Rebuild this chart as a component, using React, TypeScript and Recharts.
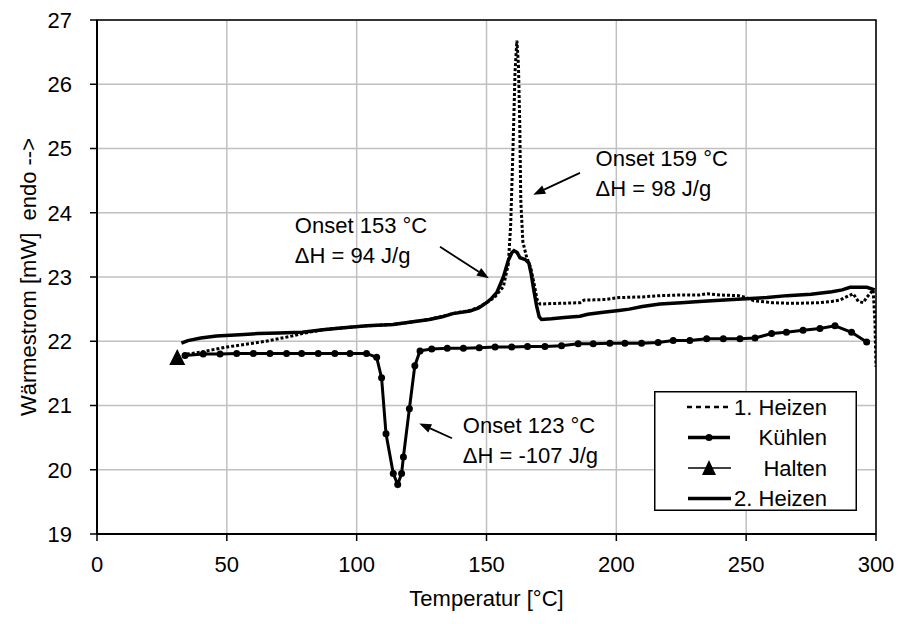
import React from 'react';
import {
  LineChart,
  Line,
  XAxis,
  YAxis,
  CartesianGrid,
  ReferenceArea,
  ReferenceLine,
  ReferenceDot,
  Legend,
} from 'recharts';

const FONT = '"Liberation Sans", Arial, Helvetica, sans-serif';

// Achsen
const xTicks = [0, 50, 100, 150, 200, 250, 300];
const yTicks = [19, 20, 21, 22, 23, 24, 25, 26, 27];

// 1. Heizen (gepunktet)
const heizen1Temp = [
  34.6, 40, 46, 50, 55, 60, 65, 70, 75, 79, 87, 95, 104, 114, 121, 128, 137, 143.6, 147, 150,
  153, 156.5, 158.4, 159.3, 160.2, 161.0, 161.7, 162.3, 162.8, 163.2, 164.0, 165.5, 167, 168.3,
  169.5, 170.6, 178, 186, 187.5, 196, 201, 210, 217, 225, 232, 235, 240, 247, 250, 253, 260, 268,
  278, 283, 286, 291.2, 293.2, 295.1, 296.4, 298.9, 299.6, 300,
];
const heizen1Flow = [
  21.8, 21.83, 21.88, 21.91, 21.94, 21.97, 22.0, 22.04, 22.08, 22.12, 22.18, 22.21, 22.24, 22.26,
  22.3, 22.34, 22.43, 22.48, 22.53, 22.6, 22.68, 22.85, 23.2, 23.8, 25.0, 26.2, 26.68, 26.3, 25.4,
  24.2, 23.55, 23.3, 23.15, 22.9, 22.65, 22.58, 22.59, 22.6, 22.64, 22.65, 22.68, 22.69, 22.71,
  22.72, 22.72, 22.74, 22.72, 22.71, 22.68, 22.63, 22.6, 22.59, 22.6, 22.62, 22.64, 22.74, 22.62,
  22.6, 22.68, 22.8, 22.3, 21.6,
];

// Kühlen (mit Punkten)
const kuehlenTemp = [
  33.9, 40.9, 47.4, 53.8, 60.2, 66.6, 73.0, 78.8, 85.2, 91.6, 97.4, 103.8, 107.7, 109.6, 111.3,
  114.1, 115.8, 117.3, 118.0, 120.3, 122.4, 124.4, 128.9, 134.9, 141.1, 147.2, 153.3, 159.7, 165.8,
  172.5, 178.9, 185.3, 191.1, 197.5, 203.3, 209.7, 216.1, 221.9, 228.3, 234.8, 241.2, 247.6, 253.4,
  259.8, 265.5, 271.9, 278.4, 284.2, 290.6, 296.4,
];
const kuehlenFlow = [
  21.78, 21.8, 21.8, 21.81, 21.81, 21.81, 21.81, 21.81, 21.81, 21.81, 21.81, 21.81, 21.75, 21.43,
  20.56, 19.94, 19.77, 19.94, 20.2, 20.95, 21.62, 21.85, 21.88, 21.89, 21.89, 21.9, 21.91, 21.91,
  21.92, 21.92, 21.93, 21.96, 21.96, 21.97, 21.97, 21.97, 21.98, 22.01, 22.01, 22.04, 22.04, 22.04,
  22.05, 22.12, 22.14, 22.17, 22.2, 22.24, 22.14, 21.99,
];

// Halten
const haltenTemp = [30.9];
const haltenFlow = [21.74];

// 2. Heizen (durchgezogen)
const heizen2Temp = [
  32.5, 35, 40, 46, 55, 62, 70, 79, 87, 95, 104, 114, 121, 128, 133, 137, 143.6, 147, 150, 152,
  154, 156.5, 158.4, 159.8, 160.6, 161.8, 162.9, 165, 166.3, 167.2, 168.2, 169.3, 170.3, 171.2, 175,
  180, 186, 189, 195, 201, 205, 210, 216.8, 225, 232, 240, 250, 258, 265.7, 275, 283, 287, 290,
  296.5, 299.5,
];
const heizen2Flow = [
  21.97, 22.01, 22.05, 22.08, 22.1, 22.12, 22.13, 22.14, 22.18, 22.21, 22.24, 22.26, 22.3, 22.34,
  22.38, 22.43, 22.47, 22.52, 22.6, 22.67, 22.76, 23.0, 23.26, 23.38, 23.41, 23.38, 23.3, 23.27,
  23.22, 23.05, 22.8, 22.55, 22.38, 22.34, 22.35, 22.37, 22.39, 22.42, 22.45, 22.48, 22.5, 22.54,
  22.58, 22.6, 22.62, 22.64, 22.66, 22.68, 22.71, 22.73, 22.77, 22.8, 22.84, 22.84, 22.8,
];

// Beschriftungen (Onset / Enthalpie) und Pfeile, in Datenkoordinaten
const notes = [
  { x: 192, y: 24.73, lines: ['Onset 159 °C', 'ΔH = 98 J/g'] },
  { x: 76.2, y: 23.68, lines: ['Onset 153 °C', 'ΔH = 94 J/g'] },
  { x: 140.9, y: 20.57, lines: ['Onset 123 °C', 'ΔH = -107 J/g'] },
];
const arrows = [
  { from: { x: 186.0, y: 24.62 }, to: { x: 168.0, y: 24.28 } },
  { from: { x: 132.1, y: 23.47 }, to: { x: 150.9, y: 22.98 } },
  { from: { x: 136.7, y: 20.49 }, to: { x: 124.1, y: 20.72 } },
];

const zip = (t: number[], f: number[]) => t.map((x, i) => ({ x, y: f[i] }));

const heizen1 = zip(heizen1Temp, heizen1Flow);
const kuehlen = zip(kuehlenTemp, kuehlenFlow);
const halten = zip(haltenTemp, haltenFlow);
const heizen2 = zip(heizen2Temp, heizen2Flow);

const ArrowShape = (props: any) => {
  const { x1, y1, x2, y2 } = props;
  const ang = Math.atan2(y2 - y1, x2 - x1);
  const len = 12;
  const half = 4.5;
  const bx = x2 - len * Math.cos(ang);
  const by = y2 - len * Math.sin(ang);
  const p1 = `${bx + half * Math.sin(ang)},${by - half * Math.cos(ang)}`;
  const p2 = `${bx - half * Math.sin(ang)},${by + half * Math.cos(ang)}`;
  return (
    <g>
      <line x1={x1} y1={y1} x2={bx} y2={by} stroke="#000" strokeWidth={1.8} />
      <polygon points={`${x2},${y2} ${p1} ${p2}`} fill="#000" />
    </g>
  );
};

const noteShape = (lines: string[]) => (props: any) => {
  const { cx, cy } = props;
  return (
    <text x={cx} y={cy} fontFamily={FONT} fontSize={22} fill="#000">
      {lines.map((l, i) => (
        <tspan key={i} x={cx} dy={i === 0 ? 0 : 30}>
          {l}
        </tspan>
      ))}
    </text>
  );
};

const TriangleDot = (props: any) => {
  const { cx, cy } = props;
  if (cx == null || cy == null) return null;
  return <polygon points={`${cx},${cy - 9} ${cx - 8},${cy + 7} ${cx + 8},${cy + 7}`} fill="#000" />;
};

const YLabel = (props: any) => {
  const { viewBox } = props;
  const cx = viewBox.x + 28;
  const cy = viewBox.y + viewBox.height / 2;
  return (
    <text
      x={cx}
      y={cy}
      transform={`rotate(-90 ${cx} ${cy})`}
      textAnchor="middle"
      dominantBaseline="central"
      fontFamily={FONT}
      fontSize={22}
      fill="#000"
      style={{ whiteSpace: 'pre' }}
    >
      {'Wärmestrom [mW]  endo -->'}
    </text>
  );
};

const XLabel = (props: any) => {
  const { viewBox } = props;
  const cx = viewBox.x + viewBox.width / 2;
  const cy = viewBox.y + 72;
  return (
    <text x={cx} y={cy} textAnchor="middle" fontFamily={FONT} fontSize={22} fill="#000">
      Temperatur [°C]
    </text>
  );
};

const legendRows = ['1. Heizen', 'Kühlen', 'Halten', '2. Heizen'];

const LegendBox = () => (
  <svg width={203} height={120} style={{ display: 'block' }}>
    <rect x={0.75} y={0.75} width={201.5} height={118.5} fill="#fff" stroke="#000" strokeWidth={1.5} />
    {legendRows.map((name, i) => {
      const y = 16 + i * 30.5;
      return (
        <g key={name}>
          {i === 0 && <line x1={33} y1={y} x2={77} y2={y} stroke="#000" strokeWidth={2.5} strokeDasharray="5 4" />}
          {i === 1 && (
            <g>
              <line x1={34} y1={y} x2={76} y2={y} stroke="#000" strokeWidth={3.5} />
              <circle cx={55} cy={y} r={3.5} fill="#000" />
            </g>
          )}
          {i === 2 && (
            <g>
              <line x1={34} y1={y} x2={77} y2={y} stroke="#000" strokeWidth={1.5} />
              <polygon points={`55,${y - 8} 48,${y + 7} 62,${y + 7}`} fill="#000" />
            </g>
          )}
          {i === 3 && <line x1={34} y1={y} x2={77} y2={y} stroke="#000" strokeWidth={3.5} />}
          <text x={173} y={y} textAnchor="end" dominantBaseline="central" fontFamily={FONT} fontSize={22} fill="#000">
            {name}
          </text>
        </g>
      );
    })}
  </svg>
);

const App: React.FC = () => {
  return (
    <div style={{ position: 'absolute', left: 0, top: 0, width: 898, height: 624, background: '#fff' }}>
      <LineChart width={898} height={624} margin={{ top: 20, right: 22, left: 0, bottom: 0 }}>
        <CartesianGrid stroke="#c0c0c0" strokeWidth={1.5} />
        <XAxis
          type="number"
          dataKey="x"
          domain={[0, 300]}
          ticks={xTicks}
          height={90}
          tickSize={7}
          tickMargin={15}
          axisLine={{ stroke: '#000', strokeWidth: 2 }}
          tickLine={{ stroke: '#000', strokeWidth: 1.5 }}
          tick={{ fill: '#000', fontSize: 22, fontFamily: FONT }}
          label={<XLabel />}
          allowDataOverflow
        />
        <YAxis
          type="number"
          domain={[19, 27]}
          ticks={yTicks}
          width={97}
          tickSize={7}
          tickMargin={18}
          axisLine={{ stroke: '#000', strokeWidth: 2 }}
          tickLine={{ stroke: '#000', strokeWidth: 1.5 }}
          tick={{ fill: '#000', fontSize: 22, fontFamily: FONT }}
          label={<YLabel />}
          allowDataOverflow
        />
        <ReferenceArea x1={0} x2={300} y1={19} y2={27} fill="none" stroke="#000" strokeWidth={1.5} />
        <Line
          data={kuehlen}
          dataKey="y"
          name="Kühlen"
          stroke="#000"
          strokeWidth={3}
          dot={{ r: 3.5, fill: '#000', stroke: '#000', strokeWidth: 0 }}
          isAnimationActive={false}
        />
        <Line
          data={heizen2}
          dataKey="y"
          name="2. Heizen"
          stroke="#000"
          strokeWidth={3.5}
          dot={false}
          isAnimationActive={false}
        />
        <Line
          data={heizen1}
          dataKey="y"
          name="1. Heizen"
          stroke="#000"
          strokeWidth={3}
          strokeDasharray="3 2"
          dot={false}
          isAnimationActive={false}
        />
        <Line
          data={halten}
          dataKey="y"
          name="Halten"
          stroke="none"
          dot={<TriangleDot />}
          isAnimationActive={false}
        />
        {arrows.map((a, i) => (
          <ReferenceLine key={`arrow-${i}`} segment={[a.from, a.to]} shape={ArrowShape} />
        ))}
        {notes.map((n, i) => (
          <ReferenceDot key={`note-${i}`} x={n.x} y={n.y} r={0} shape={noteShape(n.lines)} />
        ))}
        <Legend
          layout="vertical"
          align="center"
          verticalAlign="middle"
          content={<LegendBox />}
          wrapperStyle={{ position: 'absolute', left: 654, top: 391, width: 203, height: 120 }}
        />
      </LineChart>
    </div>
  );
};

export default App;
